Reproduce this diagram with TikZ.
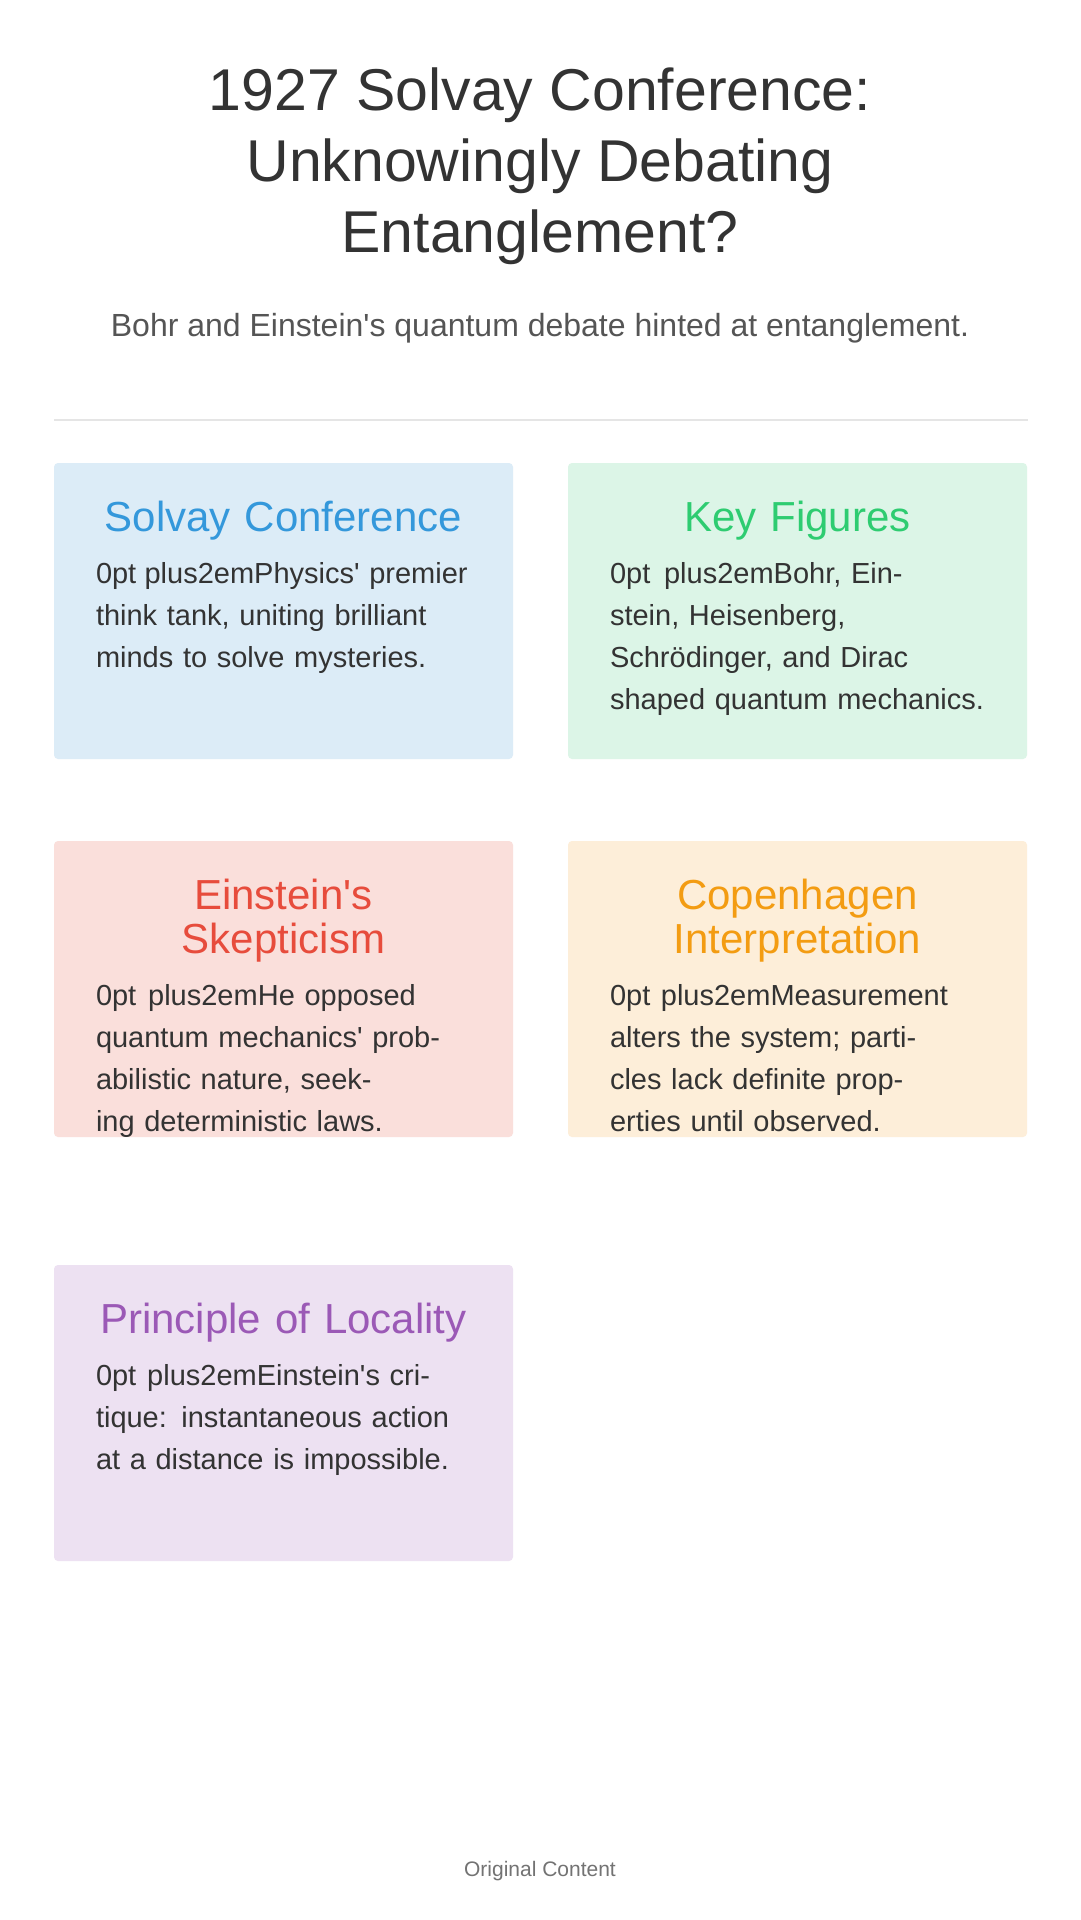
\documentclass[tikz,border=0pt]{standalone}
\usepackage{fontspec}
\setmainfont{Liberation Sans}
\newcommand{\q}{\textquotesingle}
\begin{document}
\begin{tikzpicture}[x=1pt,y=-1pt,
 card/.style={rounded corners=4pt,draw=none},
 ctitle/.style={anchor=north,inner sep=0,align=center,text width=400pt,font=\fontsize{42}{44}\selectfont},
 cbody/.style={anchor=north,inner sep=0,align=center,text width=375pt,text=txt,font=\fontsize{29}{42}\selectfont\hyphenpenalty=10000}]
\definecolor{txt}{HTML}{333333}
\definecolor{sub}{HTML}{555555}
\definecolor{c1}{HTML}{3498DB}\definecolor{b1}{HTML}{DCECF7}
\definecolor{c2}{HTML}{2ECC71}\definecolor{b2}{HTML}{DCF5E7}
\definecolor{c3}{HTML}{E74C3C}\definecolor{b3}{HTML}{FADFDB}
\definecolor{c4}{HTML}{F39C12}\definecolor{b4}{HTML}{FDEED9}
\definecolor{c5}{HTML}{9B59B6}\definecolor{b5}{HTML}{EDE1F2}
\useasboundingbox[fill=white] (0,0) rectangle (1080,1920);
\node[inner sep=0,align=center,text=txt,font=\fontsize{59}{71}\selectfont] (title) at (540,166) {1927 Solvay Conference:\\Unknowingly Debating\\Entanglement?};
\node[inner sep=0,text=sub,font=\fontsize{32}{36}\selectfont] (subtitle) at (540,328) {Bohr and Einstein\q s quantum debate hinted at entanglement.};
\draw[draw=black!10,line width=1.2pt] (54,420) -- (1028,420);
\newcommand{\mycard}[7]{%
 \fill[card,#3] (#1,#2) rectangle ++(459,296);
 \node[ctitle,text=#4] (#7t) at (#1+229.5,#2+38) {#5};
 \node[cbody] (#7b) at ([yshift=-22pt]#7t.south) {#6};}
\mycard{54}{463}{b1}{c1}{Solvay Conference}{Physics\q\ premier think tank, uniting brilliant minds to solve mysteries.}{a}
\mycard{568}{463}{b2}{c2}{Key Figures}{Bohr, Einstein, Heisenberg, Schrödinger, and Dirac shaped quantum mechanics.}{b}
\mycard{54}{841}{b3}{c3}{Einstein\q s\\Skepticism}{He opposed quantum mechanics\q\ probabilistic nature, seeking deterministic laws.}{c}
\mycard{568}{841}{b4}{c4}{Copenhagen\\Interpretation}{Measurement alters the system; particles lack definite properties until observed.}{d}
\mycard{54}{1265}{b5}{c5}{Principle of Locality}{Einstein\q s critique: instantaneous action at a distance is impossible.}{e}
\node[inner sep=0,text=black!55,font=\fontsize{21}{25}\selectfont] (footer) at (540,1871) {Original Content};
\end{tikzpicture}
\end{document}
